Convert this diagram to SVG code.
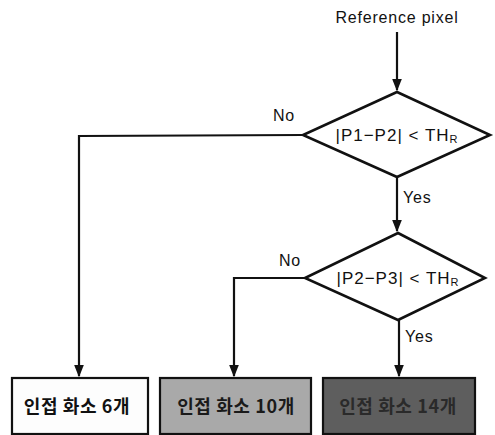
<svg xmlns="http://www.w3.org/2000/svg" width="495" height="435" viewBox="0 0 495 435">
<defs>
<style>
.t{font-family:"Liberation Sans",Arial,sans-serif;font-size:16px;fill:#111;letter-spacing:0.8px}
.d{font-family:"Liberation Sans",Arial,sans-serif;font-size:17px;fill:#111;letter-spacing:1px;text-anchor:middle}
.k{font-family:"Noto Sans CJK KR","Noto Sans",sans-serif;font-size:18px;font-weight:bold;text-anchor:middle;letter-spacing:0.6px}
.ln{fill:none;stroke:#111;stroke-width:2.2}
.dm{fill:#fff;stroke:#111;stroke-width:2.6}
.bx{stroke:#111;stroke-width:2.2}
</style>
<marker id="ah" viewBox="0 0 10 10" refX="9" refY="5" markerWidth="5.5" markerHeight="5.5" orient="auto" markerUnits="strokeWidth">
<path d="M0,1 L10,5 L0,9 Z" fill="#111"/>
</marker>
</defs>
<g id="connectors">
<line class="ln" x1="397" y1="32" x2="397" y2="90" marker-end="url(#ah)"/>
<polyline class="ln" points="303,135 79,136 79,376" marker-end="url(#ah)"/>
<line class="ln" x1="397" y1="177" x2="397" y2="231" marker-end="url(#ah)"/>
<polyline class="ln" points="305,278 234,278 234,376" marker-end="url(#ah)"/>
<line class="ln" x1="399" y1="320" x2="399" y2="376" marker-end="url(#ah)"/>
<text class="t" x="284" y="121" text-anchor="middle">No</text>
<text class="t" x="403" y="203">Yes</text>
<text class="t" x="290" y="266" text-anchor="middle">No</text>
<text class="t" x="405" y="342">Yes</text>
</g>
<g id="start">
<text class="t" x="397" y="23" text-anchor="middle">Reference pixel</text>
</g>
<g id="decision1">
<polygon class="dm" points="397,92 490,135 397,177 303,135"/>
<text class="d" x="397" y="141">|P1−P2| &lt; TH<tspan font-size="11" dy="2">R</tspan></text>
</g>
<g id="decision2">
<polygon class="dm" points="398,233 485,278 398,320 305,278"/>
<text class="d" x="398" y="284">|P2−P3| &lt; TH<tspan font-size="11" dy="2">R</tspan></text>
</g>
<g id="box1">
<rect class="bx" x="12" y="378" width="136" height="56" fill="#fdfdfd"/>
<text class="k" x="77" y="413" fill="#111">인접 화소 6개</text>
</g>
<g id="box2">
<rect class="bx" x="160" y="378" width="151" height="56" fill="#a9a9a9"/>
<text class="k" x="236" y="413" fill="#1a1a1a">인접 화소 10개</text>
</g>
<g id="box3">
<rect class="bx" x="323" y="378" width="152" height="56" fill="#5e5e5e"/>
<text class="k" x="398" y="413" fill="#2a2a2a">인접 화소 14개</text>
</g>
</svg>
